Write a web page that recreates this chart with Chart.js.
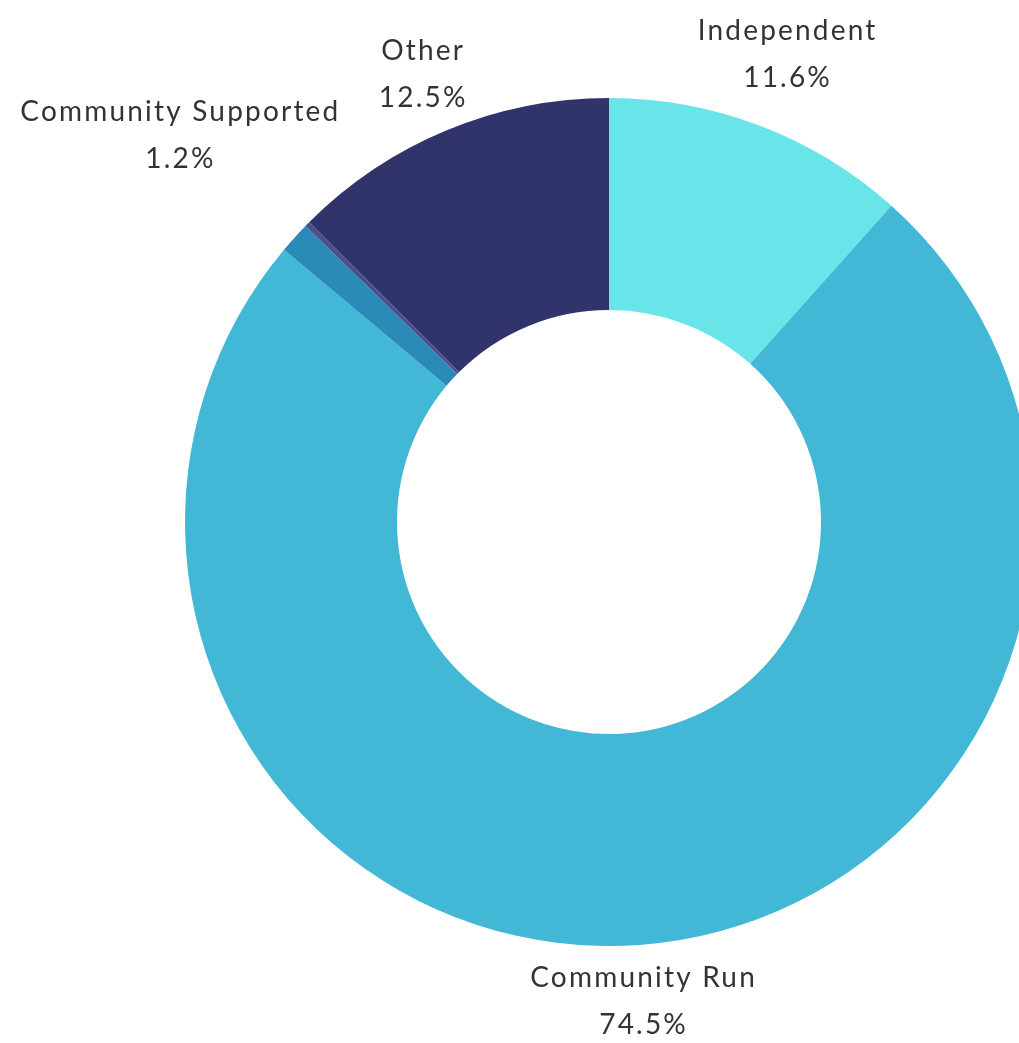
<!DOCTYPE html>
<html>
<head>
<meta charset="utf-8">
<script src="https://cdn.jsdelivr.net/npm/chart.js@4/dist/chart.umd.min.js"></script>
<style>
    html, body { margin: 0; padding: 0; background: #fff; overflow: hidden; }
    #wrap { width: 1019px; height: 1043px; overflow: hidden; position: relative; }
    #chart { position: absolute; left: 0; top: 0; }
</style>
</head>
<body>
<div id="wrap"><canvas id="chart" width="1218" height="1043"></canvas></div>
<script>
const categories = ["Independent", "Community Run", "Community Supported", "Unspecified", "Other"];
const shares = [11.6, 74.5, 1.2, 0.2, 12.5];
const colors = ["#69e4e8", "#42b7d6", "#2a8ab8", "#4b4f8c", "#31346b"];
const showLabel = [true, true, true, false, true];

const labelFont = "28px Lato";
const lineGap = 47;

const outsideLabels = {
    id: "outsideLabels",
    afterDatasetsDraw(chart) {
        const ctx = chart.ctx;
        const arcs = chart.getDatasetMeta(0).data;
        ctx.save();
        ctx.font = labelFont;
        ctx.letterSpacing = "2.2px";
        ctx.fillStyle = "#333333";
        ctx.textAlign = "center";
        ctx.textBaseline = "middle";
        arcs.forEach((arc, i) => {
            if (!showLabel[i]) return;
            const lines = [categories[i], shares[i].toFixed(1) + "%"];
            const halfW = Math.max(...lines.map(l => ctx.measureText(l).width)) / 2;
            const halfH = (lineGap + 28) / 2;
            const mid = (arc.startAngle + arc.endAngle) / 2;
            const dx = Math.cos(mid), dy = Math.sin(mid);
            const r = arc.outerRadius + 10 + Math.abs(dx) * halfW + Math.abs(dy) * halfH;
            const cx = arc.x + dx * r;
            const cy = arc.y + dy * r + 1;
            ctx.fillText(lines[0], cx, cy - lineGap / 2);
            ctx.fillText(lines[1], cx, cy + lineGap / 2);
        });
        ctx.restore();
    }
};

const chart = new Chart("chart", {
    type: "doughnut",
    data: {
        labels: categories,
        datasets: [{
            data: shares,
            backgroundColor: colors,
            borderWidth: 0
        }]
    },
    options: {
        responsive: false,
        animation: false,
        devicePixelRatio: 1,
        cutout: "50%",
        layout: {
            padding: { top: 98, bottom: 97, left: 185, right: 185 }
        },
        plugins: {
            legend: { display: false },
            tooltip: { enabled: false }
        }
    },
    plugins: [outsideLabels]
});
</script>
</body>
</html>
